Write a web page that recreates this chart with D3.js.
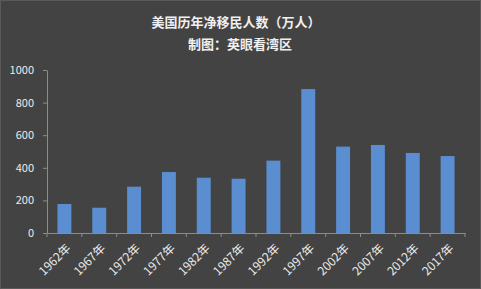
<!DOCTYPE html>
<html>
<head>
<meta charset="utf-8">
<script src="https://cdn.jsdelivr.net/npm/d3@7"></script>
<style>
  html, body { margin: 0; padding: 0; background: #434343; }
  svg { display: block; }
</style>
</head>
<body>
<svg width="481" height="289"></svg>
<script>
const years = ["1962年", "1967年", "1972年", "1977年", "1982年", "1987年", "1992年", "1997年", "2002年", "2007年", "2012年", "2017年"];
const migrants = [178, 155, 284, 374, 339, 333, 444, 883, 530, 540, 491, 472];
const yTicks = [0, 200, 400, 600, 800, 1000];

const svg = d3.select("svg");
const font = "'Microsoft YaHei', 'Noto Sans CJK SC', sans-serif";

// 背景和边框
svg.append("rect")
    .attr("x", 0.5).attr("y", 0.5)
    .attr("width", 480).attr("height", 288)
    .attr("fill", "#434343")
    .attr("stroke", "#5a5a5a");

// 标题
svg.append("text")
    .attr("x", 236).attr("y", 27)
    .attr("text-anchor", "middle")
    .attr("fill", "#f0f0f0")
    .style("font-family", font)
    .style("font-size", "13px")
    .style("font-weight", "bold")
    .text("美国历年净移民人数（万人）");

svg.append("text")
    .attr("x", 240).attr("y", 49)
    .attr("text-anchor", "middle")
    .attr("fill", "#f0f0f0")
    .style("font-family", font)
    .style("font-size", "13px")
    .style("font-weight", "bold")
    .text("制图：英眼看湾区");

const plotLeft = 47, plotRight = 465, plotTop = 70, plotBottom = 233;

const x = d3.scaleBand()
    .domain(years)
    .range([plotLeft, plotRight])
    .paddingInner(0.6)
    .paddingOuter(0.3);

const xTick = d3.scaleBand().domain(years).range([plotLeft, plotRight]);

const y = d3.scaleLinear()
    .domain([0, 1000])
    .range([plotBottom, plotTop]);

// 柱子
svg.append("g")
    .selectAll("rect")
    .data(migrants)
    .enter().append("rect")
    .attr("x", (d, i) => x(years[i]))
    .attr("y", d => y(d))
    .attr("width", x.bandwidth())
    .attr("height", d => y(0) - y(d))
    .attr("fill", "#5b8ed0");

// Y轴
const yAxis = svg.append("g")
    .attr("transform", `translate(${plotLeft},0)`)
    .call(d3.axisLeft(y).tickValues(yTicks).tickFormat(d3.format("d")).tickSize(4).tickSizeOuter(0));
yAxis.select(".domain").attr("stroke", "#8c8c8c");
yAxis.selectAll(".tick line").attr("stroke", "#8c8c8c");
yAxis.selectAll(".tick text")
    .attr("fill", "#ececec")
    .attr("x", -13)
    .style("font-family", font)
    .style("font-size", "11px");

// X轴
const xAxis = svg.append("g")
    .attr("transform", `translate(0,${plotBottom})`)
    .call(d3.axisBottom(xTick).tickSize(0).tickSizeOuter(0));
xAxis.select(".domain").attr("stroke", "#8c8c8c");

// 分隔刻度
const bounds = years.map(d => xTick(d)).concat([plotRight]);
svg.append("g")
    .selectAll("line")
    .data(bounds)
    .enter().append("line")
    .attr("x1", d => d).attr("x2", d => d)
    .attr("y1", plotBottom).attr("y2", plotBottom + 4)
    .attr("stroke", "#8c8c8c");

xAxis.selectAll(".tick text")
    .attr("fill", "#ececec")
    .style("font-family", font)
    .style("font-size", "12px")
    .attr("text-anchor", "end")
    .attr("dy", "0.35em")
    .attr("transform", "translate(4,13) rotate(-45)")
    .attr("y", 0)
    .attr("x", 0);
</script>
</body>
</html>
